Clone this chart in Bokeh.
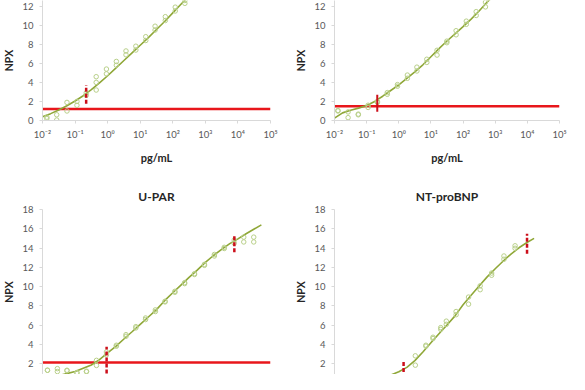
import json
from bokeh.plotting import figure
from bokeh.layouts import column, row
from bokeh.models import Range1d, FixedTicker, CustomJSTickFormatter
from bokeh.embed import file_html
from bokeh.resources import INLINE

# ---------------- data ----------------
# top-left panel
tl_x = [0.0136, 0.0136, 0.0273, 0.0273, 0.0564, 0.0564, 0.114, 0.114, 0.220, 0.220,
        0.445, 0.445, 0.445, 0.918, 0.918, 1.85, 1.85, 3.66, 3.66, 7.35, 7.35,
        14.8, 14.8, 28.6, 28.6, 59.0, 59.0, 119, 119, 235, 235]
tl_y = [0.2, 0.35, 0.6, 0.05, 1.9, 1.0, 2.0, 1.6, 2.9, 2.65,
        4.6, 4.0, 3.2, 5.4, 4.9, 6.2, 5.8, 7.3, 6.9, 7.8, 7.4,
        8.8, 8.4, 9.9, 9.5, 10.9, 10.5, 11.9, 11.5, 12.6, 12.3]
tl_cx = [0.01, 0.0178, 0.0316, 0.0562, 0.1, 0.178, 0.316, 0.562, 1, 1.78, 3.16, 5.62,
         10, 17.8, 31.6, 56.2, 100, 178, 316]
tl_cy = [0.40, 0.72, 1.10, 1.55, 2.05, 2.60, 3.25, 3.95, 4.70, 5.50, 6.30, 7.10,
         7.90, 8.70, 9.55, 10.40, 11.30, 12.20, 13.10]
tl_lod = 1.2
tl_vx = [0.219]
tl_vy0 = [1.75]
tl_vy1 = [3.7]

# top-right panel
tr_x = [0.0128, 0.0128, 0.0265, 0.0265, 0.0550, 0.0550, 0.111, 0.111, 0.216, 0.216,
        0.439, 0.439, 0.910, 0.910, 1.85, 1.85, 3.66, 3.66, 7.45, 7.45, 15.5, 15.5,
        31.3, 31.3, 60.7, 60.7, 126, 126, 256, 256, 497, 497]
tr_y = [1.0, 1.05, 0.9, 0.3, 0.67, 0.6, 1.6, 1.37, 2.0, 1.9,
        2.93, 2.75, 3.77, 3.6, 4.77, 4.43, 5.6, 5.2, 6.43, 6.1, 7.37, 6.87,
        8.33, 8.17, 9.43, 9.0, 10.43, 10.1, 11.43, 11.03, 12.43, 11.93]
tr_cx = [0.01, 0.0178, 0.0316, 0.0562, 0.1, 0.178, 0.316, 0.562, 1, 1.78, 3.16, 5.62,
         10, 17.8, 31.6, 56.2, 100, 178, 316, 562, 1000]
tr_cy = [0.25, 0.80, 1.08, 1.30, 1.58, 2.00, 2.55, 3.15, 3.75, 4.43, 5.10, 5.85,
         6.70, 7.55, 8.35, 9.10, 9.85, 10.65, 11.50, 12.45, 13.20]
tr_lod = 1.5
tr_vx = [0.214]
tr_vy0 = [0.93]
tr_vy1 = [2.7]

# bottom-left panel (U-PAR)
up_x = [0.0142, 0.0142, 0.0286, 0.0286, 0.0564, 0.0564, 0.114, 0.114, 0.224, 0.224,
        0.454, 0.454, 0.918, 0.918, 1.85, 1.85, 3.66, 3.66, 7.35, 7.35, 14.6, 14.6,
        29.2, 29.2, 57.9, 57.9, 116, 116, 231, 231, 463, 463, 935, 935, 1890, 1890,
        3800, 3800, 7690, 7690, 15100, 15100, 30600, 30600]
up_y = [1.3, 1.3, 1.47, 1.17, 1.3, 1.25, 1.07, 1.0, 1.2, 1.15,
        2.33, 1.8, 3.2, 2.9, 3.9, 3.8, 5.0, 4.83, 5.83, 5.7, 6.73, 6.57,
        7.57, 7.4, 8.47, 8.4, 9.5, 9.4, 10.4, 10.3, 11.33, 11.25, 12.3, 12.2,
        13.33, 13.17, 14.07, 13.95, 14.83, 14.5, 15.13, 14.63, 15.13, 14.63]
up_cx = [0.0316, 0.0562, 0.1, 0.178, 0.316, 0.562, 1, 1.78, 3.16, 5.62, 10, 17.8, 31.6,
         56.2, 100, 178, 316, 562, 1000, 1780, 3160, 5620, 10000, 17800, 31600, 52500]
up_cy = [0.75, 0.95, 1.17, 1.52, 1.85, 2.4, 3.1, 3.78, 4.55, 5.3, 6.07, 6.83, 7.6,
         8.53, 9.35, 10.15, 10.95, 11.7, 12.5, 13.22, 13.85, 14.45, 14.95, 15.48,
         15.98, 16.4]
up_lod = 2.1
up_vx = [0.93, 7760]
up_vy0 = [0.97, 13.57]
up_vy1 = [3.73, 15.4]

# bottom-right panel (NT-proBNP)
nt_x = [3.27, 3.27, 6.98, 6.98, 11.6, 11.6, 20.2, 20.2, 30.1, 30.1, 60.7, 60.7,
        148, 148, 340, 340, 774, 774, 1870, 1870, 4150, 4150]
nt_y = [2.8, 1.83, 3.9, 3.8, 4.73, 4.6, 5.73, 5.55, 6.4, 6.07, 7.4, 7.07,
        8.9, 8.17, 10.07, 9.67, 11.4, 11.17, 13.17, 12.83, 14.23, 13.97]
nt_cx = [0.316, 0.562, 1, 1.78, 3.16, 5.62, 10, 17.8, 31.6, 56.2, 100, 178, 316,
         562, 1000, 1780, 3160, 5620, 10000, 16200]
nt_cy = [0.5, 0.8, 1.15, 1.6, 2.3, 3.2, 4.15, 5.1, 6.0, 6.95, 8.1, 9.1, 10.05,
         11.0, 11.85, 12.65, 13.4, 14.05, 14.6, 15.0]
nt_lod = 0.6
nt_vx = [1.41, 9770]
nt_vy0 = [0.5, 13.4]
nt_vy1 = [2.23, 15.47]

x_ticks = [0.01, 0.1, 1, 10, 100, 1000, 10000, 100000]
y_ticks = [0, 2, 4, 6, 8, 10, 12, 14, 16, 18]
titles = ["U-PAR", "NT-proBNP"]
x_title = "pg/mL"
y_title = "NPX"

# ---------------- styling ----------------
FONT = "Lato"
AXIS_GREY = "#d9d9d9"
TICK_TXT = "#595959"
TITLE_TXT = "#262626"
CURVE = "#8fa737"
POINT = "#b9d08a"
RED = "#e8161b"
DARKRED = "#cc0e1a"

sup = {"-2": "\u207b\u00b2", "-1": "\u207b\u00b9", "0": "\u2070", "1": "\u00b9",
       "2": "\u00b2", "3": "\u00b3", "4": "\u2074", "5": "\u2075"}
fmt = CustomJSTickFormatter(code="const m = %s; const e = Math.round(Math.log10(tick)); return '10' + m[String(e)];" % json.dumps(sup))


def make_panel(w, h, ylo, yhi, px, py, cx, cy, lod, vx, vy0, vy1, dashed,
               bl, br, bt, bb, show_x, title=None):
    p = figure(width=w, height=h, x_axis_type="log",
               x_range=Range1d(0.01, 1e5), y_range=Range1d(ylo, yhi),
               output_backend="svg", toolbar_location=None,
               x_axis_location="below" if show_x else None,
               min_border_left=bl, min_border_right=br,
               min_border_top=bt, min_border_bottom=bb)
    p.outline_line_color = None
    p.xgrid.visible = False
    p.ygrid.visible = False
    p.background_fill_color = "white"
    p.border_fill_color = "white"

    # y axis
    ya = p.yaxis[0]
    ya.ticker = FixedTicker(ticks=y_ticks, minor_ticks=[])
    ya.axis_line_color = AXIS_GREY
    ya.major_tick_line_color = AXIS_GREY
    ya.major_tick_out = 3
    ya.major_tick_in = 0
    ya.minor_tick_line_color = None
    ya.major_label_text_font = FONT
    ya.major_label_text_font_size = "9.5px"
    ya.major_label_text_color = TICK_TXT
    ya.major_label_standoff = 6
    ya.axis_label = y_title
    ya.axis_label_text_font = FONT
    ya.axis_label_text_font_style = "bold"
    ya.axis_label_text_font_size = "10.5px"
    ya.axis_label_text_color = TITLE_TXT
    ya.axis_label_standoff = 4

    if show_x:
        xa = p.xaxis[0]
        xa.ticker = FixedTicker(ticks=x_ticks, minor_ticks=[])
        xa.formatter = fmt
        xa.axis_line_color = AXIS_GREY
        xa.major_tick_line_color = AXIS_GREY
        xa.major_tick_out = 3
        xa.major_tick_in = 0
        xa.minor_tick_line_color = None
        xa.major_label_text_font = FONT
        xa.major_label_text_font_size = "9.5px"
        xa.major_label_text_color = TICK_TXT
        xa.major_label_standoff = 5
        xa.axis_label = x_title
        xa.axis_label_text_font = FONT
        xa.axis_label_text_font_style = "bold"
        xa.axis_label_text_font_size = "11px"
        xa.axis_label_text_color = TITLE_TXT
        xa.axis_label_standoff = 8

    if title:
        p.title.text = title
        p.title.align = "center"
        p.title.text_font = FONT
        p.title.text_font_style = "bold"
        p.title.text_font_size = "12px"
        p.title.text_color = TITLE_TXT
        p.title.standoff = 12

    # LOD line
    p.segment(x0=[x_ticks[0]], y0=[lod], x1=[x_ticks[-1]], y1=[lod],
              line_color=RED, line_width=2.5)
    # fitted curve
    p.line(cx, cy, line_color=CURVE, line_width=1.6)
    # replicates
    p.scatter(px, py, marker="circle", size=4.5, fill_color=None,
              line_color=POINT, line_width=1)
    # range limits
    if dashed:
        p.segment(x0=vx, y0=vy0, x1=vx, y1=vy1, line_color=DARKRED,
                  line_width=2.5, line_dash="4 2")
    else:
        p.segment(x0=vx, y0=vy0, x1=vx, y1=vy1, line_color=DARKRED,
                  line_width=2)
    return p


p1 = make_panel(292, 170, 0, 12.6, tl_x, tl_y, tl_cx, tl_cy, tl_lod,
                tl_vx, tl_vy0, tl_vy1, True, 32, 22, 0, 50, True)
p2 = make_panel(277, 170, 0, 12.6, tr_x, tr_y, tr_cx, tr_cy, tr_lod,
                tr_vx, tr_vy0, tr_vy1, False, 31, 10, 0, 50, True)
p3 = make_panel(292, 204, 0.86, 18, up_x, up_y, up_cx, up_cy, up_lod,
                up_vx, up_vy0, up_vy1, True, 32, 22, 39, 0, False, titles[0])
p4 = make_panel(277, 204, 0.86, 18, nt_x, nt_y, nt_cx, nt_cy, nt_lod,
                nt_vx, nt_vy0, nt_vy1, True, 31, 10, 39, 0, False, titles[1])

layout = column(row(p1, p2), row(p3, p4))
open("out.html", "w").write(file_html(layout, INLINE))
